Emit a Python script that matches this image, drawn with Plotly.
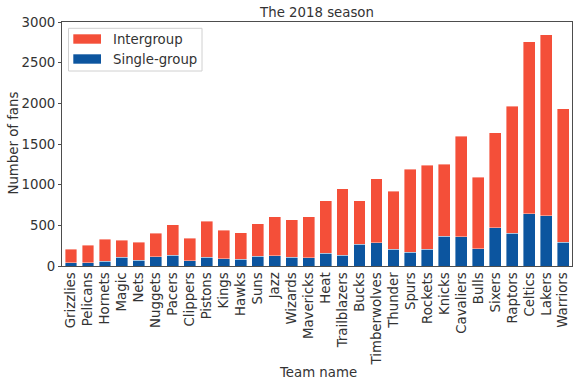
import plotly.graph_objects as go

# team order as in the chart
teams = [
    "Grizzlies", "Pelicans", "Hornets", "Magic", "Nets", "Nuggets", "Pacers",
    "Clippers", "Pistons", "Kings", "Hawks", "Suns", "Jazz", "Wizards",
    "Mavericks", "Heat", "Trailblazers", "Bucks", "Timberwolves", "Thunder",
    "Spurs", "Rockets", "Knicks", "Cavaliers", "Bulls", "Sixers", "Raptors",
    "Celtics", "Lakers", "Warriors",
]

single_group = [
    41, 37, 57, 106, 69, 114, 131, 65, 110, 90, 82, 122, 127, 110,
    102, 159, 131, 265, 286, 204, 171, 204, 367, 359, 212, 469, 400,
    645, 620, 294,
]

intergroup = [
    163, 220, 274, 208, 225, 290, 379, 274, 441, 351, 326, 400, 477, 457,
    502, 641, 820, 539, 787, 718, 1017, 1033, 886, 1237, 882, 1168, 1567,
    2114, 2225, 1637,
]

y_ticks = [0, 500, 1000, 1500, 2000, 2500, 3000]

RED = "#f44f39"
BLUE = "#0c559f"
TEXT = "#333333"
FONT = "DejaVu Sans"
FS = 13.3

W, H = 581, 388
L, R, T, B = 62, 9, 22, 122
PW, PH = W - L - R, H - T - B


def px(x):
    # pixel x -> paper x
    return (x - L) / PW


def py(y):
    # pixel y -> paper y
    return (H - B - y) / PH


fig = go.Figure()

fig.add_trace(go.Bar(
    x=teams, y=single_group, name="Single-group",
    marker=dict(color=BLUE, line=dict(color="rgba(255,255,255,0.5)", width=0.8)),
    width=0.7,
))
fig.add_trace(go.Bar(
    x=teams, y=intergroup, name="Intergroup",
    marker=dict(color=RED, line=dict(color="rgba(255,255,255,0.5)", width=0.8)),
    width=0.7,
))

# matplotlib-style legend box drawn by hand (wide patches)
legend_items = [("Intergroup", RED, 39), ("Single-group", BLUE, 59)]
shapes = [dict(
    type="rect", xref="paper", yref="paper",
    x0=px(68.5), x1=px(202), y0=py(71), y1=py(28.3),
    fillcolor="rgba(255,255,255,0.85)", line=dict(color="#d0d0d0", width=1),
)]
annotations = []
for label, color, yc in legend_items:
    shapes.append(dict(
        type="rect", xref="paper", yref="paper",
        x0=px(73.3), x1=px(101), y0=py(yc + 4.7), y1=py(yc - 4.7),
        fillcolor=color, line=dict(width=0),
    ))
    annotations.append(dict(
        text=label, xref="paper", yref="paper", x=px(111), y=py(yc),
        xanchor="left", yanchor="middle", showarrow=False,
        font=dict(size=FS, color=TEXT),
    ))

annotations += [
    dict(text="Team name", xref="paper", yref="paper",
         x=px(317.5), y=py(373), xanchor="center", yanchor="middle",
         showarrow=False, font=dict(size=FS, color=TEXT)),
    dict(text="Number of fans", xref="paper", yref="paper",
         x=px(12.5), y=py(143), textangle=-90,
         xanchor="center", yanchor="middle",
         showarrow=False, font=dict(size=FS, color=TEXT)),
]

fig.update_layout(
    width=W, height=H,
    barmode="stack",
    plot_bgcolor="white", paper_bgcolor="white",
    margin=dict(l=L, r=R, t=T, b=B, autoexpand=False),
    font=dict(family=FONT, size=FS, color=TEXT),
    title=dict(text="The 2018 season", xref="paper", x=px(317), xanchor="center",
               yref="container", y=1 - 12 / H, yanchor="middle",
               font=dict(size=FS, color=TEXT)),
    showlegend=False,
    shapes=shapes,
    annotations=annotations,
)

fig.update_xaxes(
    range=[-0.53, 29.52],
    tickangle=-90, automargin=False,
    ticks="", showgrid=False,
    showline=True, linecolor="#4d4d4d", linewidth=1, mirror=True,
    tickfont=dict(size=FS, color=TEXT),
)
fig.update_yaxes(
    range=[0, 3000],
    tickvals=y_ticks, automargin=False,
    ticks="outside", ticklen=3, tickcolor="#4d4d4d",
    showgrid=False, zeroline=False,
    showline=True, linecolor="#4d4d4d", linewidth=1, mirror=True,
    tickfont=dict(size=FS, color=TEXT),
)

# drop the page's default body margin so the figure sits at (0, 0)
fig.write_html("out.html", config={"displayModeBar": False},
               post_script="document.body.style.margin='0';")
